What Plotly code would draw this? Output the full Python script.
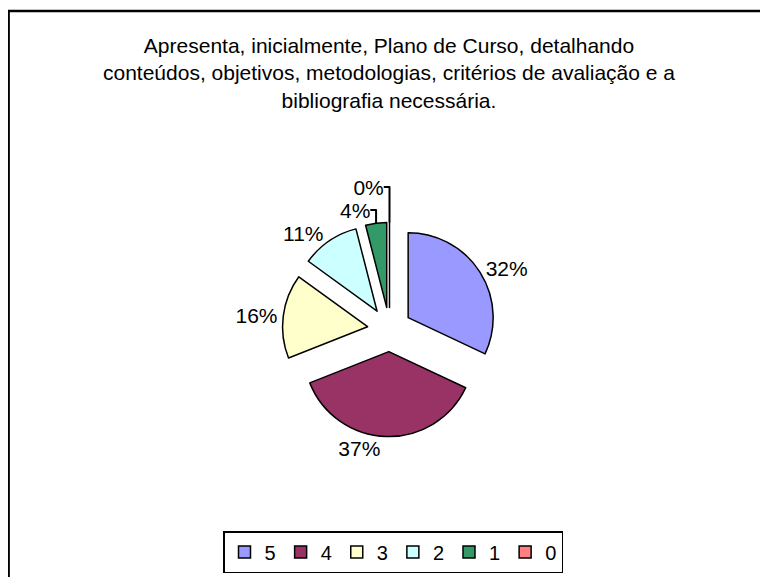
import plotly.graph_objects as go

labels = ["5", "4", "3", "2", "1", "0"]
values = [32, 37, 16, 11, 4, 0]
colors = ["#9999FF", "#993366", "#FFFFCC", "#CCFFFF", "#339966", "#FF8080"]
title_lines = [
    "Apresenta, inicialmente, Plano de Curso, detalhando",
    "conteúdos, objetivos, metodologias, critérios de avaliação e a",
    "bibliografia necessária.",
]

W, H = 768, 577
FONT = "Liberation Sans, Arial, sans-serif"
OFF = 8  # page body margin

# pie geometry (pixels, screenshot coords)
cx, cy, r, pull = 389.5 - OFF, 329.5 - OFF, 85, 0.26
half = r * (1 + pull)

fig = go.Figure()
fig.add_trace(go.Pie(
    labels=labels,
    values=values,
    sort=False,
    direction="clockwise",
    rotation=0,
    pull=[pull] * len(values),
    marker=dict(colors=colors, line=dict(color="black", width=1.5)),
    texttemplate="%{percent:.0%}",
    textposition="outside",
    textfont=dict(family=FONT, size=21, color="black"),
    domain=dict(x=[(cx - half) / W, (cx + half) / W],
                y=[1 - (cy + half) / H, 1 - (cy - half) / H]),
    hoverinfo="label+percent",
))

fig.update_layout(
    width=W, height=H,
    margin=dict(l=0, r=0, t=0, b=0),
    paper_bgcolor="white",
    plot_bgcolor="white",
    font=dict(family=FONT, size=20, color="black"),
    title=dict(
        text="<br>".join(title_lines),
        x=(389 - OFF) / W, xanchor="center", xref="paper",
        y=1 - 45 / H, yanchor="top", yref="container",
        font=dict(family=FONT, size=21, color="black"),
    ),
    showlegend=True,
    legend=dict(
        orientation="h",
        x=(393 - OFF) / W, xanchor="center",
        y=(H - (552 - OFF)) / H, yanchor="middle",
        bordercolor="black", borderwidth=1.5, bgcolor="white",
        font=dict(family=FONT, size=20, color="black"),
        itemwidth=30,
        traceorder="normal",
    ),
    shapes=[dict(
        type="rect", xref="paper", yref="paper",
        x0=0.6 / W, x1=1.2, y0=-0.2, y1=1 - (11 - OFF) / H,
        line=dict(color="black", width=2.5),
        fillcolor="rgba(0,0,0,0)",
        layer="above",
    )],
)

fig.write_html("out.html")
